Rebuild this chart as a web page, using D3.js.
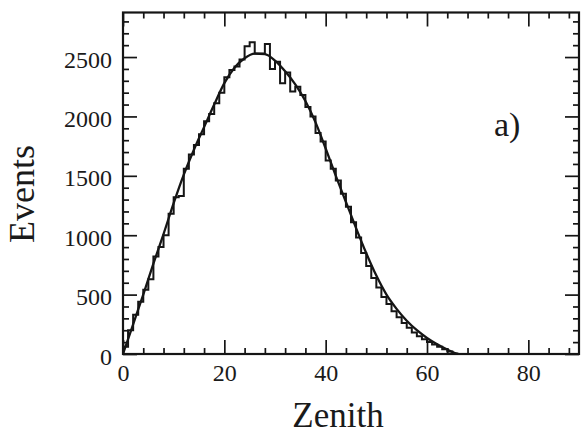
<!DOCTYPE html>
<html>
<head>
<meta charset="utf-8">
<script src="https://cdn.jsdelivr.net/npm/d3@7"></script>
<style>
  html, body { margin: 0; padding: 0; background: #fff; }
  svg { display: block; }
  text { font-family: "Liberation Serif", "DejaVu Serif", serif; fill: #1a1a1a; }
</style>
</head>
<body>
<svg id="chart" width="581" height="435"></svg>
<script>
// Zenith-angle distribution: 1-degree histogram of events with a fitted curve.
const binWidth = 1;
const counts = [
  60, 200, 330, 440, 540, 630, 820, 900, 1000, 1180,
  1320, 1330, 1560, 1680, 1760, 1850, 1960, 2020, 2110, 2200,
  2330, 2390, 2420, 2480, 2590, 2625, 2530, 2530, 2610, 2400,
  2460, 2280, 2370, 2210, 2250, 2180, 2080, 2000, 1860, 1790,
  1630, 1560, 1460, 1350, 1240, 1110, 980, 850, 740, 640,
  560, 480, 420, 360, 310, 260, 220, 180, 150, 125,
  100, 80, 60, 40, 20, 5
];

// Fitted curve, sampled every 2 degrees
const fitZenith = [0, 2, 4, 6, 8, 10, 12, 14, 16, 18, 20, 22, 24, 26, 28, 30, 32,
  34, 36, 38, 40, 42, 44, 46, 48, 50, 52, 54, 56, 58, 60, 62, 64, 66];
const fitEvents = [0, 250, 500, 760, 1010, 1270, 1510, 1720, 1910, 2100, 2280, 2410,
  2490, 2528, 2525, 2470, 2380, 2270, 2130, 1950, 1730, 1500, 1280, 1060, 850, 660,
  500, 380, 280, 200, 135, 82, 38, 0];

const xMajor = [0, 20, 40, 60, 80];
const yMajor = [0, 500, 1000, 1500, 2000, 2500];
const xLabel = "Zenith";
const yLabel = "Events";
const panelTag = "a)";

const ink = "#151515";
const svg = d3.select("#chart");
const plotLeft = 123, plotRight = 579, plotTop = 12.5, plotBottom = 354;

const x = d3.scaleLinear().domain([0, 90]).range([plotLeft, plotRight]);
const y = d3.scaleLinear().domain([0, 2875]).range([plotBottom, plotTop]);

const xMinor = d3.range(0, 90.01, 4).filter(v => !xMajor.includes(v));
const yMinor = d3.range(0, 2875, 100).filter(v => !yMajor.includes(v));

function styleAxis(g) {
  g.select(".domain").remove();
  g.selectAll(".tick line").attr("stroke", ink).attr("stroke-width", 1.7);
  g.selectAll(".tick text")
    .style("font-family", '"Liberation Serif", serif')
    .style("font-size", "24px")
    .attr("fill", ink);
}

// Bottom axis with labels, ticks pointing inward
svg.append("g").attr("transform", `translate(0,${plotBottom})`)
  .call(d3.axisBottom(x).tickValues(xMajor).tickSize(-14).tickPadding(10).tickFormat(d3.format("d")))
  .call(styleAxis);
svg.append("g").attr("transform", `translate(0,${plotBottom})`)
  .call(d3.axisBottom(x).tickValues(xMinor).tickSize(-6).tickFormat(""))
  .call(styleAxis);

// Top axis, ticks only
svg.append("g").attr("transform", `translate(0,${plotTop})`)
  .call(d3.axisTop(x).tickValues(xMajor).tickSize(-14).tickFormat(""))
  .call(styleAxis);
svg.append("g").attr("transform", `translate(0,${plotTop})`)
  .call(d3.axisTop(x).tickValues(xMinor).tickSize(-6).tickFormat(""))
  .call(styleAxis);

// Left axis with labels
svg.append("g").attr("transform", `translate(${plotLeft},0)`)
  .call(d3.axisLeft(y).tickValues(yMajor).tickSize(-14).tickPadding(11).tickFormat(d3.format("d")))
  .call(styleAxis)
  .call(g => g.selectAll(".tick text").attr("dy", "0.42em"));
svg.append("g").attr("transform", `translate(${plotLeft},0)`)
  .call(d3.axisLeft(y).tickValues(yMinor).tickSize(-6).tickFormat(""))
  .call(styleAxis);

// Right axis, ticks only
svg.append("g").attr("transform", `translate(${plotRight},0)`)
  .call(d3.axisRight(y).tickValues(yMajor).tickSize(-14).tickFormat(""))
  .call(styleAxis);
svg.append("g").attr("transform", `translate(${plotRight},0)`)
  .call(d3.axisRight(y).tickValues(yMinor).tickSize(-6).tickFormat(""))
  .call(styleAxis);

// Frame
svg.append("rect")
  .attr("x", plotLeft).attr("y", plotTop)
  .attr("width", plotRight - plotLeft).attr("height", plotBottom - plotTop)
  .attr("fill", "none").attr("stroke", ink).attr("stroke-width", 2.2);

// Histogram as a step outline
const stepPts = counts.map((c, i) => [i * binWidth, c]);
stepPts.unshift([0, 0]);
stepPts.push([counts.length * binWidth, counts[counts.length - 1]]);
stepPts.push([counts.length * binWidth, 0]);
svg.append("path")
  .datum(stepPts)
  .attr("fill", "none")
  .attr("stroke", ink)
  .attr("stroke-width", 2)
  .attr("stroke-linejoin", "miter")
  .attr("d", d3.line().x(d => x(d[0])).y(d => y(d[1])).curve(d3.curveStepAfter));

// Fitted curve
svg.append("path")
  .datum(fitZenith.map((z, i) => [z, fitEvents[i]]))
  .attr("fill", "none")
  .attr("stroke", ink)
  .attr("stroke-width", 2.3)
  .attr("d", d3.line().x(d => x(d[0])).y(d => y(d[1])).curve(d3.curveMonotoneX));

// Axis titles and panel tag
svg.append("text")
  .attr("x", 338).attr("y", 427)
  .attr("text-anchor", "middle")
  .style("font-size", "35px")
  .text(xLabel);

svg.append("text")
  .attr("transform", "translate(34,194) rotate(-90)")
  .attr("text-anchor", "middle")
  .style("font-size", "36px")
  .text(yLabel);

svg.append("text")
  .attr("x", 494).attr("y", 136)
  .style("font-size", "34px")
  .text(panelTag);
</script>
</body>
</html>
